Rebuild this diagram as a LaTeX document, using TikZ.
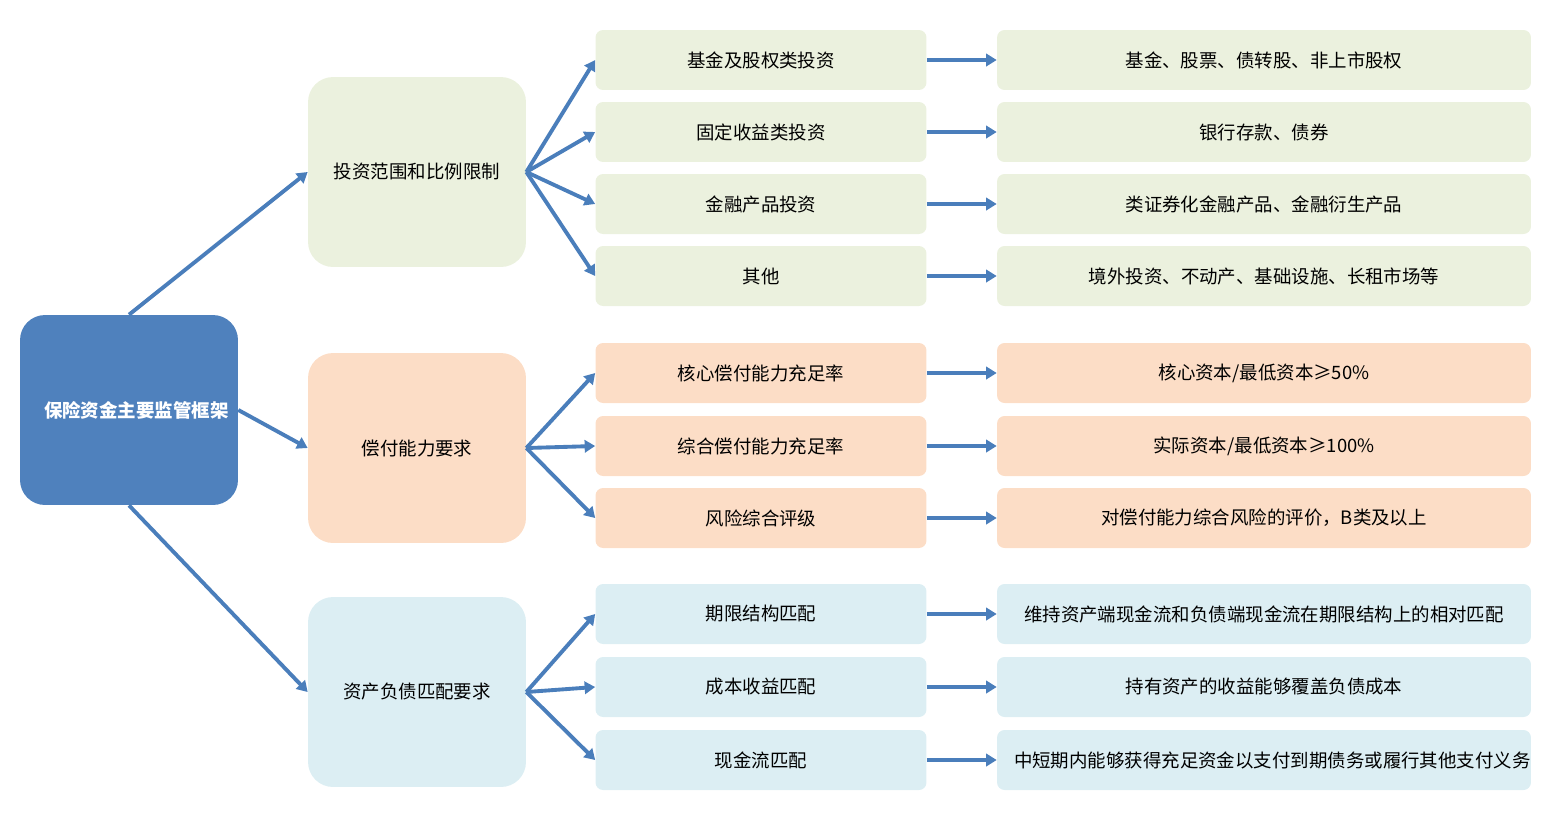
\documentclass[tikz,border=0pt]{standalone}
\usepackage{fontspec}
\setmainfont{Noto Sans CJK SC}
\usetikzlibrary{arrows.meta}
\definecolor{cg}{HTML}{EBF1DE}
\definecolor{co}{HTML}{FCDDC6}
\definecolor{cb}{HTML}{DCEEF3}
\definecolor{cr}{HTML}{4F81BD}
\definecolor{ca}{HTML}{4A7EBB}
\begin{document}
\begin{tikzpicture}[x=0.02cm,y=-0.02cm,
 big/.style={rounded corners=0.5cm,minimum width=4.36cm,minimum height=3.8cm,text width=3.4cm,align=center,font=\fontsize{10.5}{14}\selectfont,inner sep=0pt},
 mid/.style={rounded corners=0.15cm,minimum width=6.62cm,minimum height=1.2cm,align=center,font=\fontsize{10.5}{13}\selectfont,inner sep=0pt},
 rt/.style={rounded corners=0.15cm,minimum width=10.68cm,minimum height=1.2cm,align=center,text width=10cm,font=\fontsize{10.5}{13}\selectfont,inner sep=0pt},
 ar/.style={draw=ca,line width=2.2pt,-{Triangle[length=6pt,width=7pt]}}]
\useasboundingbox (0,0) rectangle (1551,829);
\node[big,fill=cr,text=white,font=\bfseries\fontsize{10.5}{14}\selectfont] (root) at (129,410) {保险资金主要监管框架};
\node[big,fill=cg] (g1) at (417,172) {投资范围和比例限制};
\node[big,fill=co] (g2) at (417,448) {偿付能力要求};
\node[big,fill=cb] (g3) at (417,692) {资产负债匹配要求};
\foreach \n/\y/\c/\a/\b in {
 a1/60/cg/基金及股权类投资/{基金、股票、债转股、非上市股权},
 a2/132/cg/固定收益类投资/{银行存款、债券},
 a3/204/cg/金融产品投资/{类证券化金融产品、金融衍生产品},
 a4/276/cg/其他/{境外投资、不动产、基础设施、长租市场等},
 b1/373/co/核心偿付能力充足率/{核心资本/最低资本≥50\%},
 b2/446/co/综合偿付能力充足率/{实际资本/最低资本≥100\%},
 b3/518/co/风险综合评级/{对偿付能力综合风险的评价，B类及以上},
 c1/614/cb/期限结构匹配/{维持资产端现金流和负债端现金流在期限结构上的相对匹配},
 c2/687/cb/成本收益匹配/{持有资产的收益能够覆盖负债成本},
 c3/760/cb/现金流匹配/{中短期内能够获得充足资金以支付到期债务或履行其他支付义务}}{
 \node[mid,fill=\c] (\n) at (761,\y) {\a};
 \node[rt,fill=\c] (\n r) at (1264,\y) {\b};
 \draw[ar] (\n.east) -- (\n r.west);
}
\draw[ar] (root.north) -- (g1.west);
\draw[ar] (root.east) -- (g2.west);
\draw[ar] (root.south) -- (g3.west);
\foreach \n in {a1,a2,a3,a4} \draw[ar] (g1.east) -- (\n.west);
\foreach \n in {b1,b2,b3} \draw[ar] (g2.east) -- (\n.west);
\foreach \n in {c1,c2,c3} \draw[ar] (g3.east) -- (\n.west);
\end{tikzpicture}
\end{document}
